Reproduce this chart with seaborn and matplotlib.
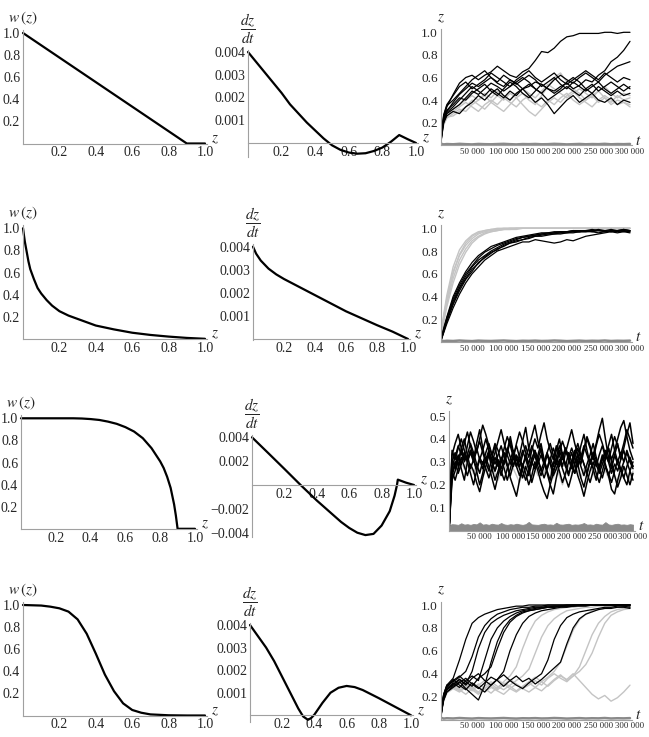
import matplotlib
matplotlib.use("Agg")
import matplotlib.pyplot as plt
import seaborn as sns
import pandas as pd
from matplotlib.ticker import MultipleLocator

# ---------------- data ----------------
# column 1: w(z)
z_w = [
    [0, 0.9, 1.0],
    [0, .01, .02, .03, .04, .06, .08, .1, .13, .16, .2, .25, .3, .35, .4, .5, .6, .7, .8, .9, 1.0],
    [0, .1, .2, .3, .35, .4, .45, .5, .55, .6, .65, .7, .75, .8, .82, .84, .86, .88, .89, .9, .95, 1.0],
    [0, .1, .15, .2, .25, .3, .35, .4, .45, .5, .55, .6, .65, .7, .8, .9, 1.0],
]
w_vals = [
    [1.0, 0.0, 0.0],
    [1.0, .88, .79, .70, .63, .54, .46, .41, .35, .30, .25, .21, .18, .15, .12, .085, .055, .035, .02, .008, 0],
    [1.0, 1.0, 1.0, 1.0, .998, .993, .985, .97, .95, .92, .88, .82, .73, .61, .55, .47, .37, .22, .12, 0, 0, 0],
    [1.0, .995, .985, .97, .94, .87, .74, .56, .37, .22, .11, .05, .025, .01, .002, 0, 0],
]

# column 2: dz/dt
z_d = [
    [0, .05, .1, .15, .2, .25, .3, .35, .4, .45, .5, .55, .6, .65, .7, .75, .8, .85, .9, .95, 1.0],
    [0, .02, .05, .1, .15, .2, .3, .4, .5, .6, .7, .8, .9, .95, 1.0],
    [0, .1, .2, .3, .4, .5, .55, .6, .65, .7, .75, .8, .85, .88, .895, .9, .95, 1.0],
    [0, .05, .1, .15, .2, .25, .3, .33, .36, .38, .4, .45, .5, .55, .6, .65, .7, .8, .9, 1.0],
]
d_vals = [
    [.004, .00355, .0031, .00265, .0022, .0017, .0013, .0009, .00055, .0002, -.0001, -.0003, -.00042,
     -.00047, -.00045, -.00035, -.0002, .00005, .00035, .00017, 0],
    [.004, .0037, .0034, .00305, .0028, .0026, .00225, .0019, .00155, .0012, .0009, .0006, .00032, .00016, 0],
    [.004, .00268, .00135, .0, -.0013, -.0025, -.0031, -.0036, -.004, -.0042, -.0041, -.0034, -.0022,
     -.0009, .0, .00045, .0002, 0],
    [.004, .0035, .003, .0024, .0017, .001, .0003, -.00005, -.0002, -.00012, .00003, .00055, .001, .00122,
     .0013, .00125, .00112, .00076, .00038, 0],
]

# column 3: simulated trajectories z(t)
T = [0, 2500, 5000] + list(range(10000, 300001, 10000))
T3 = [0, 2500] + list(range(5000, 300001, 5000))

base = [.010, .012, .008, .011, .009, .013, .010, .008, .012, .010,
        .009, .011, .013, .010, .008, .011, .010, .012, .009, .010,
        .013, .011, .008, .010, .012, .009, .011, .010, .013, .009,
        .011, .010, .012]

p1_black = [
    [0, .15, .24, .34, .45, .55, .60, .62, .58, .62, .65, .70, .66, .62, .60, .65, .68, .75, .83, .82,
     .86, .92, .96, .97, .99, .99, .99, .99, 1.0, 1.0, .99, 1.0, 1.0],
    [0, .12, .22, .30, .38, .45, .50, .55, .52, .56, .60, .55, .52, .58, .55, .50, .52, .56, .54, .50,
     .48, .52, .55, .50, .53, .58, .56, .62, .66, .74, .78, .84, .92],
    [0, .10, .20, .28, .32, .36, .42, .48, .45, .50, .55, .52, .48, .52, .56, .60, .56, .50, .46, .52,
     .58, .62, .58, .55, .60, .64, .60, .56, .62, .66, .70, .72, .74],
    [0, .14, .20, .26, .30, .28, .34, .38, .44, .40, .46, .50, .44, .40, .46, .50, .44, .38, .42, .36,
     .28, .34, .40, .44, .38, .42, .46, .40, .38, .42, .36, .40, .38],
    [0, .16, .26, .35, .40, .46, .52, .58, .62, .66, .60, .56, .62, .58, .54, .58, .62, .58, .52, .56,
     .60, .54, .50, .56, .52, .48, .52, .56, .50, .46, .50, .54, .50],
    [0, .13, .23, .31, .36, .42, .40, .46, .50, .54, .48, .44, .50, .56, .52, .46, .42, .48, .54, .50,
     .46, .50, .56, .60, .56, .50, .46, .52, .48, .44, .48, .44, .46],
    [0, .15, .27, .36, .44, .52, .56, .50, .54, .58, .64, .60, .56, .52, .58, .62, .66, .60, .56, .60,
     .64, .58, .54, .58, .62, .66, .62, .58, .64, .60, .56, .60, .58],
    [0, .11, .21, .29, .34, .40, .46, .52, .48, .44, .50, .46, .42, .48, .44, .50, .54, .50, .46, .40,
     .44, .48, .52, .48, .44, .50, .54, .48, .52, .56, .52, .48, .52],
]
p1_gray = [
    [0, .12, .20, .27, .30, .34, .38, .34, .30, .36, .40, .36, .42, .38, .34, .40, .44, .38, .34, .40,
     .36, .42, .46, .40, .36, .40, .44, .38, .42, .36, .40, .38, .36],
    [0, .10, .18, .24, .28, .32, .30, .36, .40, .44, .38, .34, .30, .36, .42, .46, .40, .36, .44, .52,
     .60, .64, .56, .50, .46, .40, .44, .48, .42, .38, .44, .40, .42],
    [0, .11, .19, .25, .26, .30, .34, .40, .36, .32, .38, .44, .40, .46, .42, .36, .30, .26, .32, .38,
     .42, .38, .44, .48, .42, .38, .34, .40, .44, .40, .36, .38, .34],
    [0, .13, .21, .28, .32, .36, .40, .44, .40, .46, .42, .48, .44, .40, .46, .50, .46, .42, .48, .54,
     .50, .46, .42, .46, .50, .46, .42, .48, .52, .46, .42, .46, .44],
]

p2_black = [
    [0, .05, .10, .20, .36, .48, .58, .66, .72, .76, .80, .83, .86, .88, .90, .92, .93, .94, .95, .95,
     .96, .96, .97, .97, .97, .98, .97, .98, .98, .97, .98, .98, .97],
    [0, .04, .08, .16, .30, .42, .52, .60, .66, .72, .76, .80, .82, .84, .86, .88, .88, .90, .89, .88,
     .87, .88, .90, .89, .91, .93, .94, .95, .96, .97, .96, .97, .96],
    [0, .06, .12, .22, .40, .52, .62, .70, .76, .80, .84, .86, .88, .90, .92, .93, .94, .95, .96, .96,
     .97, .97, .97, .98, .98, .98, .99, .98, .98, .99, .98, .99, .98],
    [0, .05, .09, .18, .33, .45, .55, .62, .70, .74, .78, .82, .84, .87, .89, .90, .92, .93, .93, .94,
     .95, .95, .96, .96, .97, .97, .97, .96, .97, .98, .97, .98, .97],
    [0, .06, .11, .21, .38, .50, .60, .67, .74, .79, .82, .85, .87, .89, .91, .92, .93, .94, .95, .96,
     .96, .97, .97, .98, .97, .98, .98, .99, .98, .97, .98, .99, .98],
    [0, .04, .09, .19, .34, .47, .56, .64, .69, .75, .79, .81, .85, .87, .88, .90, .91, .93, .94, .95,
     .95, .96, .96, .97, .97, .97, .98, .98, .97, .98, .98, .97, .98],
]
p2_gray = [
    [0, .12, .22, .38, .62, .76, .85, .91, .95, .97, .98, .99, .99, 1.0, 1.0, 1.0, 1.0, 1.0, 1.0, 1.0,
     1.0, 1.0, 1.0, 1.0, 1.0, 1.0, 1.0, 1.0, 1.0, 1.0, 1.0, 1.0, 1.0],
    [0, .10, .19, .34, .56, .72, .82, .89, .93, .96, .97, .98, .99, .99, 1.0, 1.0, 1.0, 1.0, 1.0, 1.0,
     1.0, 1.0, 1.0, 1.0, 1.0, 1.0, 1.0, 1.0, 1.0, 1.0, 1.0, 1.0, 1.0],
    [0, .11, .21, .36, .60, .77, .87, .93, .96, .98, .99, 1.0, 1.0, 1.0, 1.0, 1.0, 1.0, 1.0, 1.0, 1.0,
     1.0, 1.0, 1.0, 1.0, 1.0, 1.0, 1.0, 1.0, 1.0, 1.0, 1.0, 1.0, 1.0],
    [0, .13, .24, .41, .66, .81, .89, .94, .97, .98, .99, .99, 1.0, 1.0, 1.0, 1.0, 1.0, 1.0, 1.0, 1.0,
     1.0, 1.0, 1.0, 1.0, 1.0, 1.0, 1.0, 1.0, 1.0, 1.0, 1.0, 1.0, 1.0],
    [0, .09, .17, .31, .52, .68, .79, .87, .92, .95, .97, .98, .99, .99, .99, 1.0, 1.0, 1.0, 1.0, 1.0,
     1.0, 1.0, 1.0, 1.0, 1.0, 1.0, 1.0, 1.0, 1.0, 1.0, 1.0, 1.0, 1.0],
]

p3_black = [
    [0, .16, .30, .34, .28, .36, .40, .33, .27, .31, .38, .44, .36, .30, .26, .32, .37, .29, .24, .30,
     .35, .41, .34, .28, .33, .39, .45, .36, .30, .27, .33, .38, .31, .26, .22, .29, .35, .40, .33, .28,
     .34, .30, .25, .31, .37, .42, .35, .29, .33, .38, .44, .49, .40, .32, .27, .33, .38, .31, .36, .42,
     .47, .38],
    [0, .12, .24, .29, .33, .27, .22, .30, .35, .31, .26, .20, .25, .32, .28, .23, .18, .24, .30, .34,
     .29, .23, .19, .15, .22, .28, .33, .27, .21, .26, .31, .36, .30, .25, .20, .16, .23, .29, .34, .28,
     .24, .30, .35, .29, .23, .19, .25, .31, .27, .22, .28, .33, .29, .24, .18, .16, .22, .27, .23, .20,
     .26, .22],
    [0, .18, .33, .38, .42, .36, .31, .37, .43, .39, .34, .40, .46, .42, .37, .33, .38, .35, .30, .36,
     .41, .37, .32, .38, .43, .39, .34, .29, .35, .40, .36, .42, .47, .40, .35, .31, .37, .33, .28, .34,
     .39, .44, .38, .33, .29, .35, .40, .36, .31, .37, .42, .38, .33, .30, .36, .41, .37, .33, .38, .44,
     .40, .36],
    [0, .14, .26, .22, .27, .32, .28, .24, .29, .26, .21, .17, .23, .28, .33, .27, .22, .26, .31, .27,
     .22, .27, .32, .28, .24, .29, .25, .20, .24, .30, .26, .21, .17, .14, .20, .25, .30, .26, .21, .25,
     .30, .34, .29, .24, .20, .15, .21, .26, .30, .25, .21, .26, .31, .36, .30, .24, .19, .23, .28, .24,
     .20, .25],
    [0, .15, .28, .32, .37, .33, .38, .43, .37, .32, .36, .31, .35, .40, .35, .30, .34, .39, .44, .38,
     .33, .29, .33, .37, .32, .28, .32, .36, .41, .46, .39, .34, .30, .34, .38, .33, .29, .34, .39, .35,
     .31, .27, .32, .36, .31, .36, .41, .37, .32, .28, .33, .37, .32, .36, .31, .35, .40, .45, .48, .41,
     .35, .31],
    [0, .13, .25, .30, .25, .29, .34, .30, .25, .20, .26, .31, .27, .31, .35, .30, .26, .30, .26, .22,
     .27, .31, .35, .31, .27, .23, .28, .24, .29, .33, .28, .24, .28, .33, .29, .24, .27, .31, .27, .23,
     .19, .24, .29, .33, .28, .24, .29, .33, .38, .32, .27, .23, .28, .25, .21, .26, .31, .27, .23, .28,
     .32, .28],
    [0, .17, .31, .27, .32, .29, .34, .31, .35, .31, .27, .32, .29, .34, .38, .33, .29, .33, .37, .32,
     .28, .24, .29, .33, .30, .35, .31, .27, .31, .35, .31, .27, .23, .27, .31, .36, .32, .28, .32, .36,
     .32, .28, .25, .29, .33, .29, .25, .30, .34, .31, .27, .32, .28, .24, .28, .33, .29, .26, .30, .34,
     .30, .27],
    [0, .11, .22, .26, .31, .35, .30, .33, .38, .34, .29, .25, .30, .27, .23, .27, .32, .28, .32, .29,
     .34, .39, .33, .28, .31, .26, .22, .26, .31, .35, .31, .26, .30, .27, .32, .28, .32, .37, .33, .29,
     .25, .29, .34, .38, .33, .29, .25, .21, .26, .31, .27, .31, .35, .30, .25, .29, .26, .31, .35, .30,
     .26, .30],
    [0, .19, .35, .31, .36, .40, .35, .30, .34, .30, .35, .39, .34, .30, .34, .30, .26, .31, .27, .31,
     .36, .32, .28, .32, .28, .33, .37, .32, .37, .33, .29, .33, .29, .34, .30, .26, .30, .35, .31, .36,
     .32, .36, .32, .28, .32, .37, .33, .29, .33, .29, .25, .29, .33, .37, .42, .35, .30, .34, .30, .35,
     .31, .28],
]
p3_gray = [
    [0, .14, .27, .30, .26, .30, .27, .31, .28, .25, .29, .26, .30, .27, .24, .28, .25, .22, .26, .29,
     .26, .30, .27, .24, .21, .25, .29, .26, .30, .27, .24, .28, .25, .29, .26, .23, .27, .24, .20, .24,
     .28, .25, .29, .26, .23, .27, .24, .28, .25, .22, .26, .29, .26, .23, .27, .24, .21, .25, .28, .25,
     .22, .26],
]
p3_band = [.024, .026, .028, .027, .025, .032, .026, .028, .025, .029, .027, .036, .026, .028, .025, .030,
           .027, .026, .033, .027, .025, .028, .026, .030, .027, .025, .028, .038, .027, .026, .025, .028,
           .030, .026, .027, .025, .034, .027, .026, .028, .030, .025, .027, .026, .028, .033, .026, .027,
           .025, .030, .027, .026, .037, .027, .025, .028, .030, .026, .027, .025, .028, .026]

p4_black = [
    [0, .14, .22, .30, .36, .52, .70, .84, .89, .92, .94, .96, .97, .98, .99, .99, 1.0, 1.0, 1.0, 1.0,
     1.0, 1.0, 1.0, 1.0, 1.0, 1.0, 1.0, 1.0, 1.0, 1.0, 1.0, 1.0, 1.0],
    [0, .10, .18, .26, .30, .35, .31, .42, .62, .76, .84, .88, .91, .93, .95, .96, .97, .98, .98, .99,
     .99, .99, 1.0, 1.0, 1.0, 1.0, 1.0, 1.0, 1.0, 1.0, 1.0, 1.0, .99],
    [0, .11, .19, .27, .32, .28, .34, .38, .34, .52, .70, .80, .86, .90, .93, .95, .96, .97, .98, .98,
     .99, .99, .99, 1.0, 1.0, 1.0, 1.0, 1.0, 1.0, 1.0, 1.0, .99, 1.0],
    [0, .09, .17, .24, .29, .33, .27, .22, .17, .30, .50, .68, .80, .87, .91, .94, .95, .96, .97, .98,
     .98, .99, .99, .99, 1.0, 1.0, 1.0, 1.0, 1.0, 1.0, 1.0, 1.0, 1.0],
    [0, .12, .20, .28, .34, .38, .33, .29, .36, .40, .46, .62, .76, .85, .90, .93, .95, .96, .97, .98,
     .98, .99, .99, .99, 1.0, 1.0, 1.0, 1.0, 1.0, 1.0, 1.0, 1.0, 1.0],
    [0, .11, .19, .26, .31, .35, .30, .36, .40, .34, .30, .35, .39, .34, .30, .27, .32, .36, .40, .52,
     .70, .82, .89, .92, .94, .95, .96, .97, .98, .98, .99, .99, .98],
    [0, .10, .17, .24, .28, .32, .36, .31, .27, .32, .37, .34, .29, .34, .38, .33, .36, .31, .35, .40,
     .45, .50, .66, .80, .88, .92, .94, .96, .97, .97, .98, .98, .97],
    [0, .12, .21, .29, .35, .30, .26, .32, .28, .24, .30, .35, .42, .60, .74, .84, .90, .93, .95, .96,
     .97, .98, .98, .99, .99, .99, 1.0, 1.0, 1.0, 1.0, 1.0, 1.0, 1.0],
    [0, .13, .22, .30, .33, .37, .42, .55, .72, .82, .88, .92, .94, .96, .97, .98, .98, .99, .99, 1.0,
     1.0, 1.0, 1.0, 1.0, 1.0, 1.0, 1.0, 1.0, 1.0, 1.0, 1.0, 1.0, 1.0],
]
p4_gray = [
    [0, .10, .17, .24, .28, .25, .30, .26, .22, .27, .31, .27, .33, .38, .46, .62, .76, .86, .91, .94,
     .96, .97, .98, .98, .99, .99, 1.0, 1.0, 1.0, 1.0, 1.0, 1.0, 1.0],
    [0, .11, .18, .25, .30, .34, .29, .25, .30, .34, .29, .26, .30, .35, .31, .27, .24, .28, .33, .37,
     .42, .50, .64, .78, .87, .92, .95, .96, .97, .98, .98, .99, .98],
    [0, .09, .16, .23, .27, .24, .28, .32, .28, .24, .28, .25, .22, .27, .31, .27, .30, .34, .30, .36,
     .40, .36, .33, .38, .42, .48, .58, .72, .84, .91, .94, .96, .97],
    [0, .10, .18, .25, .29, .26, .22, .27, .31, .27, .23, .28, .32, .29, .25, .29, .33, .37, .33, .29,
     .34, .38, .35, .40, .34, .28, .22, .18, .21, .16, .19, .24, .30],
    [0, .12, .20, .27, .31, .27, .32, .28, .24, .29, .33, .29, .26, .30, .34, .38, .44, .58, .72, .82,
     .88, .92, .95, .96, .97, .98, .98, .99, .99, .99, 1.0, 1.0, 1.0],
    [0, .11, .19, .26, .32, .36, .31, .27, .23, .27, .31, .35, .31, .27, .24, .28, .32, .28, .25, .30,
     .35, .39, .34, .38, .46, .60, .74, .84, .90, .94, .96, .97, .98],
]

for grp in (p1_black, p1_gray, p2_black, p2_gray, p4_black, p4_gray, [base]):
    for r in grp:
        assert len(r) == len(T), len(r)
for grp in (p3_black, p3_gray, [p3_band]):
    for r in grp:
        assert len(r) == len(T3), len(r)

# ---------------- style ----------------
sns.set_style("white")
plt.rcParams['font.family'] = ['Liberation Serif', 'DejaVu Serif']
plt.rcParams['mathtext.fontset'] = 'stix'

W, H = 649, 737
fig = plt.figure(figsize=(W / 100, H / 100), dpi=100)
AX_GRAY = '#a0a0a0'


def place(xpx, xval, ypx, yval, xlim, ylim):
    sx = (xpx[1] - xpx[0]) / (xval[1] - xval[0])
    left = xpx[0] + (xlim[0] - xval[0]) * sx
    right = xpx[0] + (xlim[1] - xval[0]) * sx
    sy = (ypx[1] - ypx[0]) / (yval[1] - yval[0])
    top = ypx[0] + (ylim[1] - yval[0]) * sy
    bottom = ypx[0] + (ylim[0] - yval[0]) * sy
    ax = fig.add_axes([left / W, 1 - bottom / H, (right - left) / W, (bottom - top) / H])
    ax.set_xlim(xlim)
    ax.set_ylim(ylim)
    return ax


def math_axes(ax, xt, xl, xminor, yt, yl, yminor, xfs=10, yfs=10):
    ax.patch.set_alpha(0)
    for s in ['top', 'right']:
        ax.spines[s].set_visible(False)
    for s in ['left', 'bottom']:
        ax.spines[s].set_position(('data', 0))
        ax.spines[s].set_color(AX_GRAY)
        ax.spines[s].set_linewidth(0.8)
    ax.set_xticks(xt, xl)
    ax.set_yticks(yt, yl)
    ax.xaxis.set_minor_locator(MultipleLocator(xminor))
    ax.yaxis.set_minor_locator(MultipleLocator(yminor))
    ax.tick_params(which='both', direction='in', color=AX_GRAY, pad=2)
    ax.tick_params(which='major', length=3.5, width=0.7)
    ax.tick_params(which='minor', length=1.8, width=0.5)
    ax.tick_params(axis='x', labelsize=xfs)
    ax.tick_params(axis='y', labelsize=yfs)
    ax.set_xlabel('')
    ax.set_ylabel('')
    ax.grid(False)


def label(ax, text, xy, off, ha, va, fs):
    ax.annotate(text, xy=xy, xycoords='data', xytext=off, textcoords='offset points',
                ha=ha, va=va, fontsize=fs, annotation_clip=False)


zt = [0.2, 0.4, 0.6, 0.8, 1.0]
zl = ['0.2', '0.4', '0.6', '0.8', '1.0']
tt = [50000, 100000, 150000, 200000, 250000, 300000]
tl = ['50 000', '100 000', '150 000', '200 000', '250 000', '300 000']

# pixel anchors: (px at v0, px at v1)
col1_x = [(23, 205), (23, 205), (21, 195), (23, 205)]
col1_y = [(143.5, 33), (338.8, 228.3), (528.8, 418.3), (715.5, 605)]
col2_x = [(248, 416), (253, 408), (252, 414), (250, 411)]
col2_y = [((143, 52), (0, .004)), ((339, 246.7), (0, .004)), ((485, 437.3), (0, .004)),
          ((715.3, 625), (0, .004))]
col2_ylim = [(-0.0006, 0.0041), (-0.00005, 0.0041), (-0.0044, 0.0042), (-0.00028, 0.0041)]
col2_yt = [[.001, .002, .003, .004], [.001, .002, .003, .004], [-.004, -.002, .002, .004],
           [.001, .002, .003, .004]]
col2_yl = [['0.001', '0.002', '0.003', '0.004'], ['0.001', '0.002', '0.003', '0.004'],
           ['\u22120.004', '\u22120.002', '0.002', '0.004'], ['0.001', '0.002', '0.003', '0.004']]
col3_x = [(440.5, 630), (440.5, 630), (449, 633), (440.5, 630)]
col3_y = [((145.3, 32.3), (0, 1.0)), ((342, 228.3), (0, 1.0)), ((530.6, 416), (0, 0.5)),
          ((719.5, 605), (0, 1.0))]

traj = [(T, p1_black, p1_gray, base), (T, p2_black, p2_gray, base),
        (T3, p3_black, p3_gray, None), (T, p4_black, p4_gray, base)]

for i in range(4):
    # ---- column 1 ----
    ax = place(col1_x[i], (0, 1), col1_y[i], (0, 1), (0, 1.01), (0, 1.03))
    sns.lineplot(x=z_w[i], y=w_vals[i], color='black', lw=1.6, ax=ax, clip_on=False)
    math_axes(ax, zt, zl, 0.05, [0.2, 0.4, 0.6, 0.8, 1.0], zl, 0.05)
    label(ax, r'$w\,(z)$', (0, 1.03), (0, 2), 'center', 'bottom', 11)
    label(ax, r'$z$', (1.01, 0), (3, 3), 'left', 'center', 11)

    # ---- column 2 ----
    ax = place(col2_x[i], (0, 1), col2_y[i][0], col2_y[i][1], (0, 1.01), col2_ylim[i])
    sns.lineplot(x=z_d[i], y=d_vals[i], color='black', lw=1.6, ax=ax, clip_on=False)
    math_axes(ax, zt, zl, 0.05, col2_yt[i], col2_yl[i], 0.0002 if i != 2 else 0.0005)
    label(ax, r'$\dfrac{dz}{dt}$', (0, col2_ylim[i][1]), (0, 3), 'center', 'bottom', 11)
    label(ax, r'$z$', (1.01, 0), (3, 3), 'left', 'center', 11)

    # ---- column 3 ----
    tgrid, blk, gry, bot = traj[i]
    ytop = 0.52 if i == 2 else 1.03
    ax = place(col3_x[i], (0, 300000), col3_y[i][0], col3_y[i][1], (0, 303000), (0, ytop))
    if i == 2:
        ax.fill_between(tgrid, 0, p3_band, color='#8a8a8a', lw=0.6, zorder=1)
    else:
        sns.lineplot(x=tgrid, y=bot, color='#8a8a8a', lw=1.8, ax=ax, zorder=1)
    gdf = pd.concat([pd.DataFrame({'t': tgrid, 'z': r, 'run': k}) for k, r in enumerate(gry)])
    bdf = pd.concat([pd.DataFrame({'t': tgrid, 'z': r, 'run': k}) for k, r in enumerate(blk)])
    sns.lineplot(data=gdf, x='t', y='z', units='run', estimator=None, color='#c4c4c4',
                 lw=1.0, ax=ax, legend=False)
    sns.lineplot(data=bdf, x='t', y='z', units='run', estimator=None, color='black',
                 lw=1.1 if i == 2 else 0.9, ax=ax, legend=False)
    if i == 2:
        yt3 = [0.1, 0.2, 0.3, 0.4, 0.5]
        math_axes(ax, tt, tl, 10000, yt3, ['0.1', '0.2', '0.3', '0.4', '0.5'], 0.02, xfs=6.3, yfs=9.5)
        ztop = 0.52
    else:
        math_axes(ax, tt, tl, 10000, zt, zl, 0.05, xfs=6.3, yfs=9.5)
        ztop = 1.03
    label(ax, r'$z$', (0, ztop), (0, 3), 'center', 'bottom', 11)
    label(ax, r'$t$', (303000, 0), (2, 3), 'left', 'center', 11)

fig.savefig('out.png', dpi=100)
